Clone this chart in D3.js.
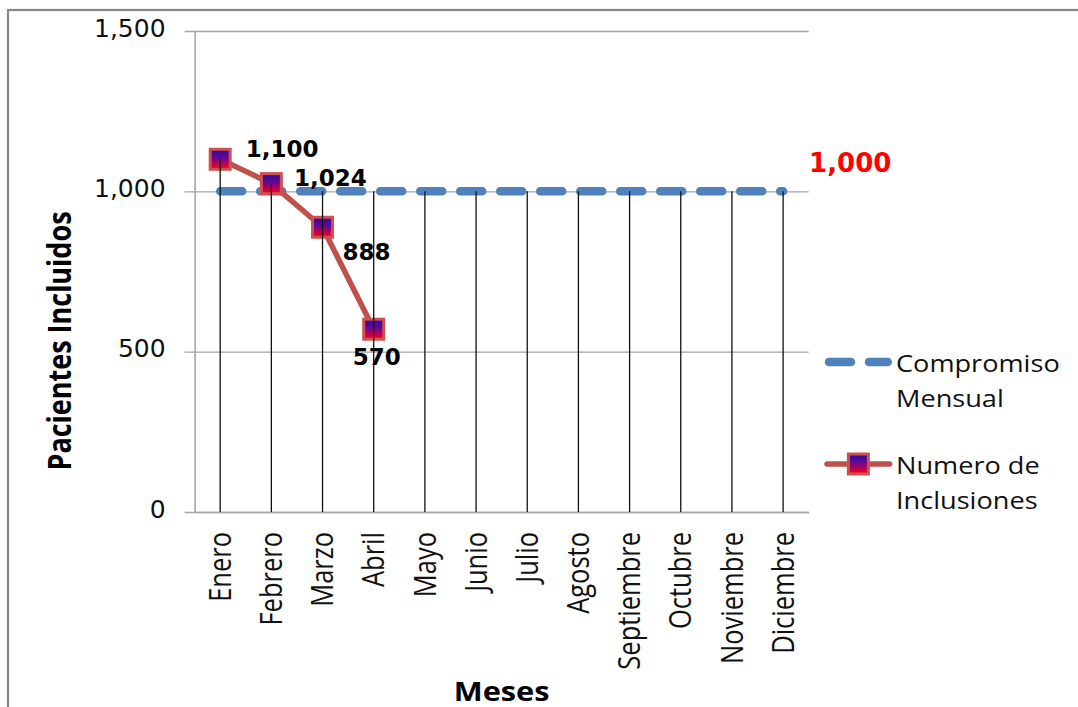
<!DOCTYPE html>
<html>
<head>
<meta charset="utf-8">
<script src="https://cdn.jsdelivr.net/npm/d3@7"></script>
<style>
  body { margin: 0; background: #fff; }
  svg { display: block; }
</style>
</head>
<body>
<div id="wrapper"></div>
<script>
// data
const months = ["Enero", "Febrero", "Marzo", "Abril", "Mayo", "Junio", "Julio",
  "Agosto", "Septiembre", "Octubre", "Noviembre", "Diciembre"];
const compromiso = [1000, 1000, 1000, 1000, 1000, 1000, 1000, 1000, 1000, 1000, 1000, 1000];
const inclusiones = [1100, 1024, 888, 570, null, null, null, null, null, null, null, null];
const yTicks = [0, 500, 1000, 1500];
const seriesNames = ["Compromiso Mensual", "Numero de Inclusiones"];

function drawChart() {
  const width = 1078;
  const height = 707;
  const plot = { left: 194.6, right: 808.7, top: 31, bottom: 512 };
  const stretch = 1.18; // text in the picture is widened
  const sansFont = "'Open Sans', 'Noto Sans', sans-serif";
  const numFont = "'DejaVu Sans', sans-serif";
  const blue = "#4F81BD";
  const red = "#C0504D";

  const svg = d3.select("#wrapper")
    .append("svg")
    .attr("width", width)
    .attr("height", height);

  // marker gradient
  const grad = svg.append("defs").append("linearGradient")
    .attr("id", "markerFill")
    .attr("x1", 0).attr("y1", 0).attr("x2", 0).attr("y2", 1);
  grad.append("stop").attr("offset", "0%").attr("stop-color", "#2a0a9c");
  grad.append("stop").attr("offset", "40%").attr("stop-color", "#5c0a94");
  grad.append("stop").attr("offset", "75%").attr("stop-color", "#c00050");
  grad.append("stop").attr("offset", "100%").attr("stop-color", "#ff0000");

  // chart frame (right and bottom edges fall outside the picture)
  svg.append("rect")
    .attr("x", 8).attr("y", 10)
    .attr("width", width + 20).attr("height", height + 20)
    .attr("fill", "none")
    .attr("stroke", "#888")
    .attr("stroke-width", 2.2);

  const xScale = d3.scaleBand()
    .domain(months)
    .range([plot.left, plot.right]);
  const xMid = m => xScale(m) + xScale.bandwidth() / 2;

  const yScale = d3.scaleLinear()
    .domain([0, 1500])
    .range([plot.bottom, plot.top]);

  // horizontal gridlines (also make the outside tick marks)
  const grid = svg.append("g")
    .attr("transform", `translate(${plot.right},0)`)
    .call(d3.axisLeft(yScale).tickValues(yTicks).tickSize(plot.right - plot.left + 10).tickFormat(""));
  grid.select(".domain").remove();
  grid.selectAll(".tick line").attr("stroke", "#a6a6a6").attr("stroke-width", 1.4);

  // y axis
  const yAxis = svg.append("g")
    .attr("transform", `translate(${plot.left},0)`)
    .call(d3.axisLeft(yScale).tickValues(yTicks).tickSize(0).tickPadding(29).tickFormat(d3.format(",")));
  yAxis.select(".domain").attr("stroke", "#a6a6a6").attr("stroke-width", 1.6);
  yAxis.selectAll(".tick text")
    .attr("font-family", numFont)
    .attr("font-size", 25)
    .attr("fill", "#111")
    .attr("dy", "0.2em");

  // x axis
  const xAxis = svg.append("g")
    .attr("transform", `translate(0,${plot.bottom})`)
    .call(d3.axisBottom(xScale).tickSize(0).tickFormat(d => d));
  xAxis.select(".domain").attr("stroke", "#a6a6a6").attr("stroke-width", 1.6);
  xAxis.selectAll(".tick text")
    .attr("font-family", sansFont)
    .attr("font-size", 25.5)
    .attr("fill", "#111")
    .attr("text-anchor", "end")
    .attr("x", 0).attr("y", 0).attr("dy", 0)
    .attr("transform", `scale(${stretch},1) rotate(-90) translate(-20,9)`);

  // axis titles
  svg.append("text")
    .attr("transform", `translate(60,341) scale(${stretch},1) rotate(-90)`)
    .attr("text-anchor", "middle")
    .attr("dy", "0.36em")
    .attr("font-family", sansFont)
    .attr("font-weight", "bold")
    .attr("font-size", 27)
    .attr("fill", "#000")
    .text("Pacientes Incluidos");

  svg.append("text")
    .attr("transform", `translate(${(plot.left + plot.right) / 2},701) scale(${stretch},1)`)
    .attr("text-anchor", "middle")
    .attr("font-family", sansFont)
    .attr("font-weight", "bold")
    .attr("font-size", 26)
    .attr("fill", "#000")
    .text("Meses");

  // compromiso dashed line
  const lineGen = d3.line()
    .defined(d => d.v != null)
    .x(d => xMid(d.m))
    .y(d => yScale(d.v));

  const compData = months.map((m, i) => ({ m, v: compromiso[i] }));
  const inclData = months.map((m, i) => ({ m, v: inclusiones[i] }));

  svg.append("path")
    .datum(compData)
    .attr("d", lineGen)
    .attr("fill", "none")
    .attr("stroke", blue)
    .attr("stroke-width", 8.5)
    .attr("stroke-linecap", "round")
    .attr("stroke-dasharray", "22,18");

  // inclusiones line + markers
  svg.append("path")
    .datum(inclData)
    .attr("d", lineGen)
    .attr("fill", "none")
    .attr("stroke", red)
    .attr("stroke-width", 5.5)
    .attr("stroke-linejoin", "round");

  const mSize = 20;
  svg.selectAll(".marker")
    .data(inclData.filter(d => d.v != null))
    .enter()
    .append("rect")
    .attr("class", "marker")
    .attr("x", d => xMid(d.m) - mSize / 2)
    .attr("y", d => yScale(d.v) - mSize / 2)
    .attr("width", mSize)
    .attr("height", mSize)
    .attr("fill", "url(#markerFill)")
    .attr("stroke", "#d0504f")
    .attr("stroke-width", 3);

  // drop lines from the highest point down to the axis
  svg.selectAll(".drop")
    .data(months)
    .enter()
    .append("line")
    .attr("class", "drop")
    .attr("x1", d => xMid(d))
    .attr("x2", d => xMid(d))
    .attr("y1", (d, i) => yScale(d3.max([compromiso[i], inclusiones[i]])))
    .attr("y2", plot.bottom)
    .attr("stroke", "#111")
    .attr("stroke-width", 1.3);

  // data labels
  const labelOffsets = [[62, -11], [59, -6], [44, 24], [3, 27]];
  svg.selectAll(".dlabel")
    .data(inclData.filter(d => d.v != null))
    .enter()
    .append("text")
    .attr("class", "dlabel")
    .attr("x", (d, i) => xMid(d.m) + labelOffsets[i][0])
    .attr("y", (d, i) => yScale(d.v) + labelOffsets[i][1])
    .attr("dy", "0.36em")
    .attr("text-anchor", "middle")
    .attr("font-family", numFont)
    .attr("font-weight", "bold")
    .attr("font-size", 23)
    .attr("fill", "#000")
    .text(d => d3.format(",")(d.v));

  const last = compData[compData.length - 1];
  svg.append("text")
    .attr("x", xMid(last.m) + 26)
    .attr("y", yScale(last.v) - 29)
    .attr("dy", "0.36em")
    .attr("font-family", numFont)
    .attr("font-weight", "bold")
    .attr("font-size", 26)
    .attr("fill", "#ff0000")
    .text(d3.format(",")(last.v));

  // legend
  const legend = svg.append("g");
  const legX = 825, legX2 = 891.7, textX = 896;
  const legRows = [362, 464];

  legend.append("line")
    .attr("x1", legX + 4).attr("x2", legX2 - 4)
    .attr("y1", legRows[0]).attr("y2", legRows[0])
    .attr("stroke", blue)
    .attr("stroke-width", 8.5)
    .attr("stroke-linecap", "round")
    .attr("stroke-dasharray", "22,18");

  legend.append("line")
    .attr("x1", legX + 2).attr("x2", legX2 - 2)
    .attr("y1", legRows[1]).attr("y2", legRows[1])
    .attr("stroke", red)
    .attr("stroke-width", 5.5)
    .attr("stroke-linecap", "round");

  legend.append("rect")
    .attr("x", (legX + legX2) / 2 - mSize / 2)
    .attr("y", legRows[1] - mSize / 2)
    .attr("width", mSize).attr("height", mSize)
    .attr("fill", "url(#markerFill)")
    .attr("stroke", "#d0504f")
    .attr("stroke-width", 3);

  const legLines = [
    ["Compromiso", "Mensual"],
    ["Numero de", "Inclusiones"]
  ];
  legLines.forEach((lines, i) => {
    lines.forEach((t, j) => {
      legend.append("text")
        .attr("transform", `translate(${textX},${legRows[i] + 9.5 + j * 35}) scale(${stretch},1)`)
        .attr("font-family", sansFont)
        .attr("font-size", 23)
        .attr("fill", "#111")
        .text(t);
    });
  });
}

drawChart();
</script>
</body>
</html>
